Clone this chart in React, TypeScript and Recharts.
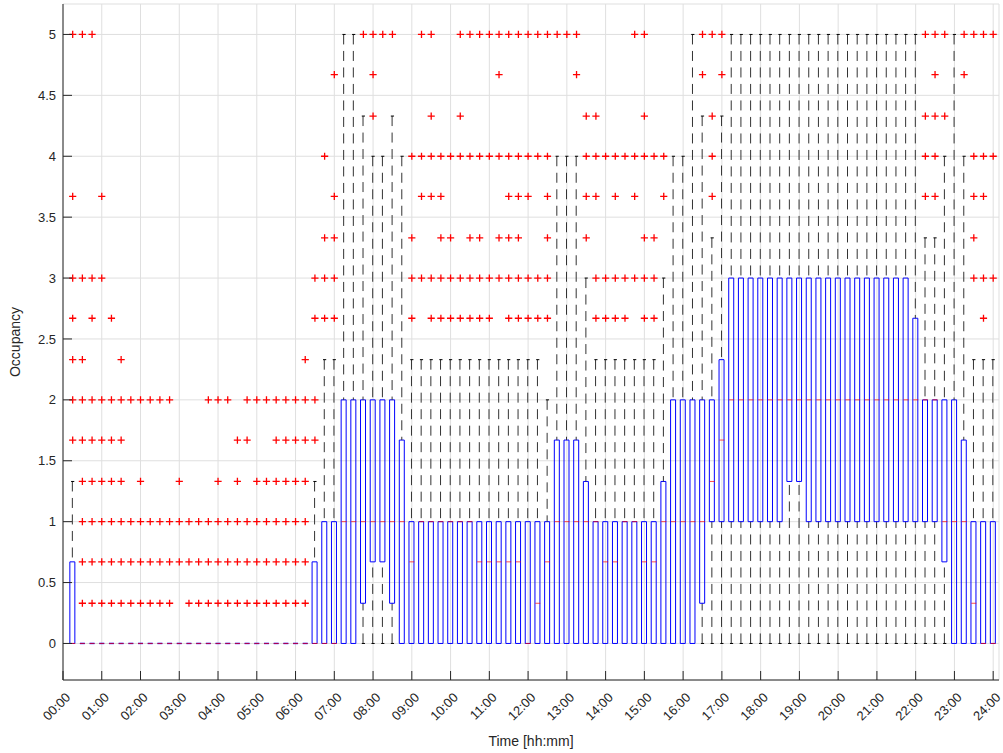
import React from 'react';
import { ComposedChart, Bar, Scatter, XAxis, YAxis, CartesianGrid } from 'recharts';

// one box per 15-minute slot: slot 1 = 00:15 ... slot 96 = 24:00
const slots = Array.from({ length: 96 }, (_, i) => i + 1);

const hourTicks = [0, 4, 8, 12, 16, 20, 24, 28, 32, 36, 40, 44, 48, 52, 56, 60, 64, 68, 72, 76, 80, 84, 88, 92, 96];
const hourLabels = [
  '00:00', '01:00', '02:00', '03:00', '04:00', '05:00', '06:00', '07:00', '08:00',
  '09:00', '10:00', '11:00', '12:00', '13:00', '14:00', '15:00', '16:00', '17:00',
  '18:00', '19:00', '20:00', '21:00', '22:00', '23:00', '24:00',
];
const yTicks = [0, 0.5, 1, 1.5, 2, 2.5, 3, 3.5, 4, 4.5, 5];

const whiskerLow = [
  0, 0, 0, 0, 0, 0, 0, 0, 0, 0, 0, 0,
  0, 0, 0, 0, 0, 0, 0, 0, 0, 0, 0, 0,
  0, 0, 0, 0, 0, 0, 0, 0, 0, 0, 0, 0,
  0, 0, 0, 0, 0, 0, 0, 0, 0, 0, 0, 0,
  0, 0, 0, 0, 0, 0, 0, 0, 0, 0, 0, 0,
  0, 0, 0, 0, 0, 0, 0, 0, 0, 0, 0, 0,
  0, 0, 0, 0, 0, 0, 0, 0, 0, 0, 0, 0,
  0, 0, 0, 0, 0, 0, 0, 0, 0, 0, 0, 0,
];

const lowerQuartile = [
  0, 0, 0, 0, 0, 0, 0, 0, 0, 0, 0, 0,
  0, 0, 0, 0, 0, 0, 0, 0, 0, 0, 0, 0,
  0, 0, 0, 0, 0, 0, 0.33, 0.67, 0.67, 0.33, 0, 0,
  0, 0, 0, 0, 0, 0, 0, 0, 0, 0, 0, 0,
  0, 0, 0, 0, 0, 0, 0, 0, 0, 0, 0, 0,
  0, 0, 0, 0, 0, 0.33, 1, 1, 1, 1, 1, 1,
  1, 1, 1.33, 1.33, 1, 1, 1, 1, 1, 1, 1, 1,
  1, 1, 1, 1, 1, 1, 0.67, 0, 0, 0, 0, 0,
];

const median = [
  0, 0, 0, 0, 0, 0, 0, 0, 0, 0, 0, 0,
  0, 0, 0, 0, 0, 0, 0, 0, 0, 0, 0, 0,
  0, 0, 0, 0, 1, 1, 1, 1, 1, 1, 1, 0.67,
  1, 1, 1, 1, 1, 1, 0.67, 0.67, 0.67, 0.67, 0.67, 0,
  0.33, 0.67, 1, 1, 1, 1, 1, 0.67, 0.67, 1, 1, 0.67,
  0.67, 1, 1, 1, 1, 1, 1.33, 1.67, 2, 2, 2, 2,
  2, 2, 2, 2, 2, 2, 2, 2, 2, 2, 2, 2,
  2, 2, 2, 2, 2, 2, 1, 1, 1, 0.33, 0, 0,
];

const upperQuartile = [
  0.67, 0, 0, 0, 0, 0, 0, 0, 0, 0, 0, 0,
  0, 0, 0, 0, 0, 0, 0, 0, 0, 0, 0, 0,
  0, 0.67, 1, 1, 2, 2, 2, 2, 2, 2, 1.67, 1,
  1, 1, 1, 1, 1, 1, 1, 1, 1, 1, 1, 1,
  1, 1, 1.67, 1.67, 1.67, 1.33, 1, 1, 1, 1, 1, 1,
  1, 1.33, 2, 2, 2, 2, 2, 2.33, 3, 3, 3, 3,
  3, 3, 3, 3, 3, 3, 3, 3, 3, 3, 3, 3,
  3, 3, 3, 2.67, 2, 2, 2, 2, 1.67, 1, 1, 1,
];

const whiskerHigh = [
  1.33, 0, 0, 0, 0, 0, 0, 0, 0, 0, 0, 0,
  0, 0, 0, 0, 0, 0, 0, 0, 0, 0, 0, 0,
  0, 1.33, 2.33, 2.33, 5, 5, 4.33, 4, 4, 4.33, 4, 2.33,
  2.33, 2.33, 2.33, 2.33, 2.33, 2.33, 2.33, 2.33, 2.33, 2.33, 2.33, 2.33,
  2.33, 2, 4, 4, 4, 3, 2.33, 2.33, 2.33, 2.33, 2.33, 2.33,
  2.33, 3, 4, 4, 5, 4.33, 3.33, 4.33, 5, 5, 5, 5,
  5, 5, 5, 5, 5, 5, 5, 5, 5, 5, 5, 5,
  5, 5, 5, 5, 3.33, 3.33, 4, 5, 4, 2.33, 2.33, 2.33,
];

// outliers: occupancy level -> slots that have a '+' at that level
const outliers: [number, number[]][] = [
  [5, [1, 2, 3, 31, 32, 33, 34, 37, 38, 41, 42, 43, 44, 45, 46, 47, 48, 49, 50, 51, 52, 53, 59, 60, 66, 67, 68, 89, 90, 91, 93, 94, 95, 96]],
  [4.67, [28, 32, 45, 53, 66, 68, 90, 93]],
  [4.33, [32, 38, 41, 54, 55, 60, 67, 89, 90, 91]],
  [4, [27, 36, 37, 38, 39, 40, 41, 42, 43, 44, 45, 46, 47, 48, 49, 50, 54, 55, 56, 57, 58, 59, 60, 61, 62, 67, 89, 90, 94, 95, 96]],
  [3.67, [1, 4, 28, 37, 38, 39, 46, 47, 48, 50, 54, 55, 57, 59, 62, 67, 89, 90, 94, 95]],
  [3.33, [27, 28, 36, 39, 40, 42, 43, 45, 46, 47, 50, 54, 60, 61, 94]],
  [3, [1, 2, 3, 4, 26, 27, 28, 36, 37, 38, 39, 40, 41, 42, 43, 44, 45, 46, 47, 48, 49, 50, 55, 56, 57, 58, 59, 60, 61, 94, 95, 96]],
  [2.67, [1, 3, 5, 26, 27, 28, 36, 38, 39, 40, 41, 42, 43, 44, 46, 47, 48, 49, 50, 55, 56, 57, 58, 60, 61, 95]],
  [2.33, [1, 2, 6, 25]],
  [2, [1, 2, 3, 4, 5, 6, 7, 8, 9, 10, 11, 15, 16, 17, 19, 20, 21, 22, 23, 24, 25, 26]],
  [1.67, [1, 2, 3, 4, 5, 6, 18, 19, 22, 23, 24, 25, 26]],
  [1.33, [2, 3, 4, 5, 6, 8, 12, 16, 18, 20, 21, 22, 23, 24, 25]],
  [1, [2, 3, 4, 5, 6, 7, 8, 9, 10, 11, 12, 13, 14, 15, 16, 17, 18, 19, 20, 21, 22, 23, 24, 25]],
  [0.67, [2, 3, 4, 5, 6, 7, 8, 9, 10, 11, 12, 13, 14, 15, 16, 17, 18, 19, 20, 21, 22, 23, 24, 25]],
  [0.33, [2, 3, 4, 5, 6, 7, 8, 9, 10, 11, 13, 14, 15, 16, 17, 18, 19, 20, 21, 22, 23, 24, 25]],
];

// stacked segments: invisible base, lower whisker, box, upper whisker
const boxRows = slots.map((s, i) => ({
  pos: s,
  base: whiskerLow[i],
  lower: lowerQuartile[i] - whiskerLow[i],
  box: upperQuartile[i] - lowerQuartile[i],
  upper: whiskerHigh[i] - upperQuartile[i],
}));
// caps only where the whisker has some length (otherwise hidden under the box edge)
const capPoints = slots.flatMap((s, i) => [
  ...(whiskerHigh[i] > upperQuartile[i] ? [{ pos: s, val: whiskerHigh[i] }] : []),
  ...(whiskerLow[i] < lowerQuartile[i] ? [{ pos: s, val: whiskerLow[i] }] : []),
]);
const flatBoxPoints = slots
  .filter((_, i) => upperQuartile[i] === lowerQuartile[i])
  .map((s) => ({ pos: s, val: lowerQuartile[s - 1] }));
const medianPoints = slots.map((s, i) => ({ pos: s, val: median[i] }));
const outlierPoints = outliers.flatMap(([level, list]) => list.map((s) => ({ pos: s, val: level })));

const AXIS = '#262626';
const FONT = '"Liberation Sans", Arial, Helvetica, sans-serif';
const DASH = '10 6.5';

const Empty = () => <g />;

const BoxShape = (props: any) => {
  const { x, y, width, height } = props;
  if (!height) return <g />;
  return (
    <path
      d={`M${x},${y}h${width}v${height}h${-width}Z`}
      fill="none"
      stroke="#0000ff"
      strokeWidth={1}
    />
  );
};

const UpperWhisker = (props: any) => {
  const { x, y, width, height } = props;
  if (!height) return <g />;
  const cx = x + width / 2;
  return <line x1={cx} y1={y} x2={cx} y2={y + height} stroke="#333" strokeDasharray={DASH} />;
};

const LowerWhisker = (props: any) => {
  const { x, y, width, height } = props;
  if (!height) return <g />;
  const cx = x + width / 2;
  return <line x1={cx} y1={y + height} x2={cx} y2={y} stroke="#333" strokeDasharray={DASH} />;
};

const CapShape = ({ cx, cy }: any) => (
  <line x1={cx - 1.6} x2={cx + 1.6} y1={cy} y2={cy} stroke="#000" strokeWidth={1} />
);

// a box with q1 = q3 collapses to a single blue edge
const FlatBoxShape = ({ cx, cy }: any) => (
  <line x1={cx - 2.5} x2={cx + 2.5} y1={cy} y2={cy} stroke="#0000ff" strokeWidth={1.4} />
);

const MedianShape = ({ cx, cy }: any) => (
  <line x1={cx - 2.5} x2={cx + 2.5} y1={cy} y2={cy} stroke="#ff0000" strokeWidth={1} strokeOpacity={0.7} />
);

const PlusShape = ({ cx, cy }: any) => (
  <path d={`M${cx - 3.6},${cy}h7.2M${cx},${cy - 3.6}v7.2`} stroke="#ff0000" strokeWidth={1.3} />
);

const BottomTick = ({ x, y, payload }: any) => {
  const label = hourLabels[hourTicks.indexOf(payload.value)];
  const ax = x + 5;
  const ay = y + 15;
  return (
    <g>
      <line x1={x} y1={y} x2={x} y2={y - 9} stroke={AXIS} />
      <text
        x={ax}
        y={ay}
        dy="0.35em"
        textAnchor="end"
        transform={`rotate(-45, ${ax}, ${ay})`}
        fontFamily={FONT}
        fontSize={13}
        fill={AXIS}
      >
        {label}
      </text>
    </g>
  );
};

const TopTick = ({ x, y }: any) => <line x1={x} y1={y} x2={x} y2={y + 9} stroke={AXIS} />;

const LeftTick = ({ x, y, payload }: any) => (
  <g>
    <line x1={x} y1={y} x2={x + 9} y2={y} stroke={AXIS} />
    <text x={x - 7} y={y} dy="0.35em" textAnchor="end" fontFamily={FONT} fontSize={13} fill={AXIS}>
      {String(payload.value)}
    </text>
  </g>
);

const RightTick = ({ x, y }: any) => <line x1={x} y1={y} x2={x - 9} y2={y} stroke={AXIS} />;

const YTitle = ({ viewBox }: any) => {
  const cx = viewBox.x + 12;
  const cy = viewBox.y + viewBox.height / 2;
  return (
    <text
      x={cx}
      y={cy}
      textAnchor="middle"
      transform={`rotate(-90, ${cx}, ${cy})`}
      fontFamily={FONT}
      fontSize={14}
      fill={AXIS}
    >
      Occupancy
    </text>
  );
};

const XTitle = ({ viewBox }: any) => (
  <text
    x={viewBox.x + viewBox.width / 2}
    y={viewBox.y + 66}
    textAnchor="middle"
    fontFamily={FONT}
    fontSize={14}
    fill={AXIS}
  >
    Time [hh:mm]
  </text>
);

export default function App() {
  return (
    <div style={{ position: 'absolute', left: 0, top: 0, width: 1003, height: 753, background: '#fff' }}>
      <ComposedChart
        width={1003}
        height={753}
        data={boxRows}
        margin={{ top: 4, right: 4, bottom: 0, left: 8 }}
      >
        <CartesianGrid stroke="#dfdfdf" strokeWidth={1} />
        <XAxis
          dataKey="pos"
          type="number"
          domain={[0, 96.6]}
          ticks={hourTicks}
          interval={0}
          height={73}
          tickSize={0}
          tickMargin={0}
          tickLine={false}
          tick={(p: any) => <BottomTick {...p} />}
          axisLine={{ stroke: AXIS }}
          label={<XTitle />}
        />
        <XAxis
          xAxisId="top"
          orientation="top"
          dataKey="pos"
          type="number"
          domain={[0, 96.6]}
          ticks={hourTicks}
          interval={0}
          height={0}
          tickSize={0}
          tickMargin={0}
          tickLine={false}
          tick={(p: any) => <TopTick {...p} />}
          axisLine={{ stroke: AXIS }}
        />
        <YAxis
          type="number"
          domain={[-0.3, 5.25]}
          ticks={yTicks}
          interval={0}
          width={55}
          tickSize={0}
          tickMargin={0}
          tickLine={false}
          tick={(p: any) => <LeftTick {...p} />}
          axisLine={{ stroke: AXIS }}
          label={<YTitle />}
        />
        <YAxis
          yAxisId="right"
          orientation="right"
          type="number"
          domain={[-0.3, 5.25]}
          ticks={yTicks}
          interval={0}
          width={0}
          tickSize={0}
          tickMargin={0}
          tickLine={false}
          tick={(p: any) => <RightTick {...p} />}
          axisLine={{ stroke: AXIS }}
        />
        <Bar dataKey="base" stackId="b" barSize={5} shape={Empty} isAnimationActive={false} />
        <Bar dataKey="lower" stackId="b" barSize={5} shape={LowerWhisker} isAnimationActive={false} />
        <Bar dataKey="box" stackId="b" barSize={5} shape={BoxShape} isAnimationActive={false} />
        <Bar dataKey="upper" stackId="b" barSize={5} shape={UpperWhisker} isAnimationActive={false} />
        <Scatter data={capPoints} dataKey="val" shape={CapShape} isAnimationActive={false} />
        <Scatter data={flatBoxPoints} dataKey="val" shape={FlatBoxShape} isAnimationActive={false} />
        <Scatter data={medianPoints} dataKey="val" shape={MedianShape} isAnimationActive={false} />
        <Scatter data={outlierPoints} dataKey="val" shape={PlusShape} isAnimationActive={false} />
      </ComposedChart>
    </div>
  );
}
